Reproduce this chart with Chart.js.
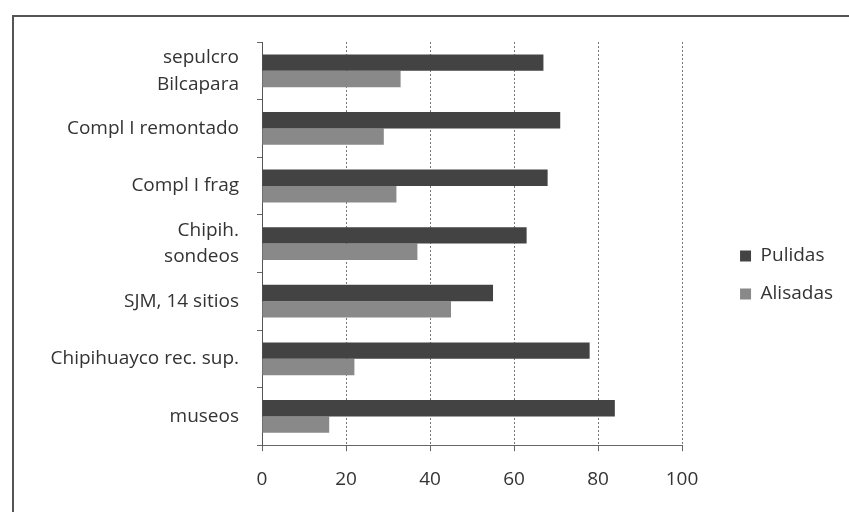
<!DOCTYPE html>
<html>
<head>
<meta charset="utf-8">
<script src="https://cdn.jsdelivr.net/npm/chart.js@4"></script>
<style>
  html, body { margin: 0; padding: 0; background: #fff; }
  #frame {
    position: absolute; left: 12px; top: 15px; width: 860px; height: 520px;
    border-left: 2px solid #555; border-top: 2px solid #555;
  }
  #chart { position: absolute; left: 0; top: 0; }
</style>
</head>
<body>
<div id="frame"></div>
<canvas id="chart" width="849" height="512"></canvas>
<script>
// Categories (top to bottom) and values (%)
const categories = [
    ['sepulcro', 'Bilcapara'],
    'Compl I remontado',
    'Compl I frag',
    ['Chipih.', 'sondeos'],
    'SJM, 14 sitios',
    'Chipihuayco rec. sup.',
    'museos'
];
const pulidas = [67, 71, 68, 63, 55, 78, 84];
const alisadas = [33, 29, 32, 37, 45, 22, 16];
const xTicks = [0, 20, 40, 60, 80, 100];

const labelFont = { family: '"Open Sans", Lato, sans-serif', size: 19 };

new Chart(document.getElementById('chart'), {
    type: 'bar',
    data: {
        labels: categories,
        datasets: [{
            label: 'Pulidas',
            data: pulidas,
            backgroundColor: '#434343',
            categoryPercentage: 0.57,
            barPercentage: 1.0
        }, {
            label: 'Alisadas',
            data: alisadas,
            backgroundColor: '#898989',
            categoryPercentage: 0.57,
            barPercentage: 1.0
        }]
    },
    options: {
        indexAxis: 'y',
        responsive: false,
        animation: false,
        devicePixelRatio: 1,
        layout: { padding: { top: 42, bottom: 4, left: 0, right: 6 } },
        plugins: {
            tooltip: { enabled: false },
            legend: {
                position: 'right',
                align: 'center',
                labels: {
                    boxWidth: 11,
                    boxHeight: 11,
                    padding: 19,
                    color: '#333',
                    font: labelFont
                }
            }
        },
        scales: {
            x: {
                min: 0,
                max: 100,
                afterBuildTicks: (scale) => { scale.ticks = xTicks.map(v => ({ value: v })); },
                grid: {
                    color: '#777',
                    borderDash: [2, 2],
                    tickLength: 6,
                    tickBorderDash: [],
                    tickColor: '#666'
                },
                border: { display: true, color: '#666', dash: [2, 2] },
                ticks: { color: '#333', font: labelFont, padding: 17 }
            },
            y: {
                grid: {
                    drawOnChartArea: false,
                    tickLength: 5,
                    color: '#666'
                },
                border: { display: true, color: '#555', width: 1 },
                ticks: {
                    color: '#333',
                    font: Object.assign({ lineHeight: 1.4 }, labelFont),
                    padding: 18
                },
                afterFit: (scale) => { scale.width = 262; }
            },
            gap: {
                axis: 'y',
                type: 'linear',
                position: 'right',
                display: true,
                grid: { display: false },
                border: { display: false },
                ticks: { display: false },
                afterFit: (scale) => { scale.width = 39; }
            }
        }
    }
});
</script>
</body>
</html>
